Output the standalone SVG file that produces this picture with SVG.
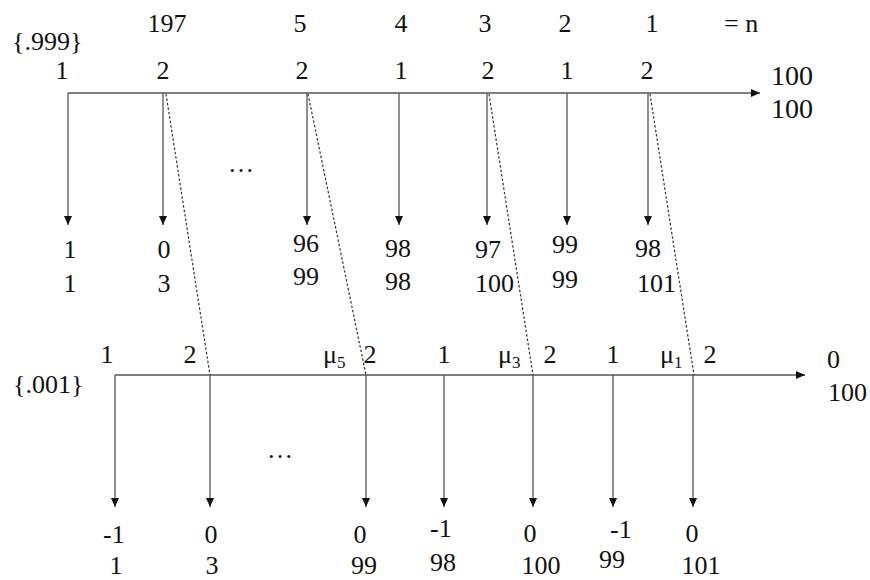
<svg xmlns="http://www.w3.org/2000/svg" width="870" height="580" viewBox="0 0 870 580">
<style>
text{font-family:"Liberation Serif","Times New Roman",serif;font-size:26px;fill:#111}
.m{text-anchor:middle}
.ax{stroke:#555;stroke-width:1.3;fill:none}
.dl{stroke:#333;stroke-width:1.2;stroke-dasharray:2.5 2;fill:none}
.sub{font-size:17px}
.big{font-size:28px}
</style>
<defs>
<marker id="ah" markerUnits="userSpaceOnUse" markerWidth="9" markerHeight="8" refX="9" refY="4" orient="auto">
<path d="M0,0 L9,4 L0,8 z" fill="#111"/>
</marker>
</defs>
<rect width="870" height="580" fill="#fff"/>

<g id="top-labels">
<text x="12" y="50">{.999}</text>
<text class="m" x="167" y="32">197</text>
<text class="m" x="300" y="32">5</text>
<text class="m" x="401" y="32">4</text>
<text class="m" x="485" y="32">3</text>
<text class="m" x="565" y="32">2</text>
<text class="m" x="652" y="32">1</text>
<text x="724" y="32">= n</text>
<text class="m" x="62" y="79">1</text>
<text class="m" x="163" y="79">2</text>
<text class="m" x="302" y="79">2</text>
<text class="m" x="401" y="79">1</text>
<text class="m" x="488" y="79">2</text>
<text class="m" x="567" y="79">1</text>
<text class="m" x="647" y="79">2</text>
<text class="big" x="771" y="85">100</text>
<text class="big" x="771" y="118">100</text>
<text x="228" y="172">…</text>
</g>

<g id="top-results">
<text class="m" x="70" y="258">1</text>
<text class="m" x="70" y="292">1</text>
<text class="m" x="164" y="258">0</text>
<text class="m" x="164" y="292">3</text>
<text x="293" y="252">96</text>
<text x="293" y="285">99</text>
<text x="385" y="257">98</text>
<text x="385" y="290">98</text>
<text x="475" y="258">97</text>
<text x="475" y="292">100</text>
<text x="552" y="253">99</text>
<text x="552" y="288">99</text>
<text x="635" y="257">98</text>
<text x="637" y="292">101</text>
</g>

<g id="bottom-labels">
<text x="13" y="393">{.001}</text>
<text class="m" x="107" y="363">1</text>
<text class="m" x="190" y="363">2</text>
<text x="323" y="363">μ<tspan class="sub" dy="5">5</tspan></text>
<text class="m" x="370" y="363">2</text>
<text class="m" x="444" y="363">1</text>
<text x="498" y="363">μ<tspan class="sub" dy="5">3</tspan></text>
<text class="m" x="550" y="363">2</text>
<text class="m" x="613" y="363">1</text>
<text x="660" y="363">μ<tspan class="sub" dy="5">1</tspan></text>
<text class="m" x="710" y="363">2</text>
<text x="827" y="368">0</text>
<text x="828" y="401">100</text>
<text x="267" y="458">…</text>
</g>

<g id="bottom-results">
<text x="103" y="543">-1</text>
<text class="m" x="116" y="574">1</text>
<text class="m" x="211" y="543">0</text>
<text class="m" x="212" y="574">3</text>
<text class="m" x="360" y="543">0</text>
<text class="m" x="364" y="574">99</text>
<text x="430" y="537">-1</text>
<text x="430" y="571">98</text>
<text class="m" x="530" y="542">0</text>
<text class="m" x="541" y="574">100</text>
<text x="610" y="538">-1</text>
<text class="m" x="612" y="568">99</text>
<text class="m" x="692" y="542">0</text>
<text class="m" x="701" y="574">101</text>
</g>

<g id="connectors">
<line class="ax" x1="68" y1="93" x2="760" y2="93" marker-end="url(#ah)"/>
<line class="ax" x1="68" y1="93" x2="68" y2="225" marker-end="url(#ah)"/>
<line class="ax" x1="163" y1="93" x2="163" y2="225" marker-end="url(#ah)"/>
<line class="ax" x1="307" y1="93" x2="307" y2="225" marker-end="url(#ah)"/>
<line class="ax" x1="399" y1="93" x2="399" y2="225" marker-end="url(#ah)"/>
<line class="ax" x1="487" y1="93" x2="487" y2="225" marker-end="url(#ah)"/>
<line class="ax" x1="567" y1="93" x2="567" y2="225" marker-end="url(#ah)"/>
<line class="ax" x1="648" y1="93" x2="648" y2="225" marker-end="url(#ah)"/>

<line class="ax" x1="115" y1="375" x2="805" y2="375" marker-end="url(#ah)"/>
<line class="ax" x1="115" y1="375" x2="115" y2="507" marker-end="url(#ah)"/>
<line class="ax" x1="210" y1="375" x2="210" y2="507" marker-end="url(#ah)"/>
<line class="ax" x1="366" y1="375" x2="366" y2="507" marker-end="url(#ah)"/>
<line class="ax" x1="444" y1="375" x2="444" y2="507" marker-end="url(#ah)"/>
<line class="ax" x1="533" y1="375" x2="533" y2="507" marker-end="url(#ah)"/>
<line class="ax" x1="613" y1="375" x2="613" y2="507" marker-end="url(#ah)"/>
<line class="ax" x1="693" y1="375" x2="693" y2="507" marker-end="url(#ah)"/>

<line class="dl" x1="166" y1="94" x2="210" y2="375"/>
<line class="dl" x1="308" y1="94" x2="366" y2="375"/>
<line class="dl" x1="489" y1="94" x2="533" y2="375"/>
<line class="dl" x1="650" y1="94" x2="694" y2="375"/>
</g>
</svg>
